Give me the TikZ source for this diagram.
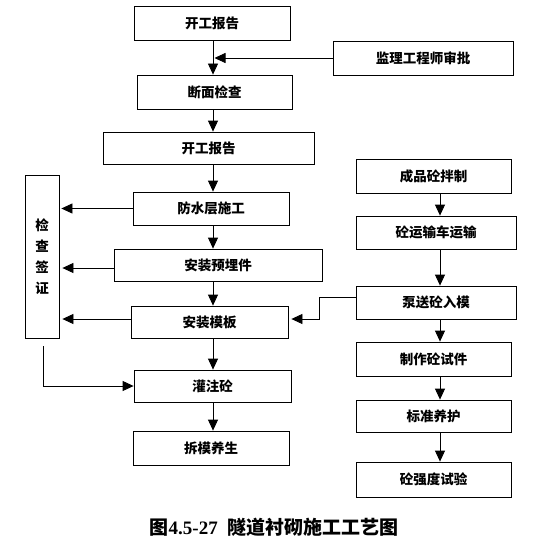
\documentclass[tikz,border=0pt]{standalone}
\usepackage{fontspec}
\setmainfont{Liberation Serif}
\newfontfamily\cjk{Noto Sans CJK SC}
\usetikzlibrary{arrows.meta,calc}
\begin{document}
\begin{tikzpicture}[x=1pt,y=-1pt,
  box/.style={draw, line width=0.8pt, inner sep=0pt, font=\cjk\bfseries\fontsize{13.5}{15}\selectfont},
  arr/.style={line width=0.8pt, -{Triangle[length=11pt,width=10pt]}},
  ln/.style={line width=0.8pt}]
\useasboundingbox (0,0) rectangle (549,551);
\fill[white] (0,0) rectangle (549,551);
\coordinate (colL) at (213,0);
\coordinate (colR) at (440,0);
% left column
\node[box, minimum width=156, minimum height=34] (top1) at (212,23) {开工报告};
\node[box, minimum width=180, minimum height=34] (jianli) at (423,58) {监理工程师审批};
\node[box, minimum width=155, minimum height=34] (duanmian) at (214.5,92) {断面检查};
\node[box, minimum width=211, minimum height=32] (top2) at (208.5,148) {开工报告};
\node[box, minimum width=34, minimum height=163, align=center,
      font=\cjk\bfseries\fontsize{13.5}{21}\selectfont] (jiancha) at (42,256.5) {检\\查\\签\\证};
\node[box, minimum width=156, minimum height=33] (fangshui) at (211,208.5) {防水层施工};
\node[box, minimum width=208, minimum height=32] (yumai) at (218,265) {安装预埋件};
\node[box, minimum width=157, minimum height=32] (muban) at (209.5,322) {安装模板};
\node[box, minimum width=157, minimum height=32] (guanzhu) at (212.5,386) {灌注砼};
\node[box, minimum width=156, minimum height=34] (chaimo) at (211,448) {拆模养生};
% right column
\node[box, minimum width=155, minimum height=34] (chengpin) at (433.5,176) {成品砼拌制};
\node[box, minimum width=160, minimum height=33] (yunshu) at (436,232.5) {砼运输车运输};
\node[box, minimum width=160, minimum height=33] (bengsong) at (436,302.5) {泵送砼入模};
\node[box, minimum width=155, minimum height=34] (zhizuo) at (433.5,359) {制作砼试件};
\node[box, minimum width=155, minimum height=32] (biaozhun) at (433.5,416) {标准养护};
\node[box, minimum width=155, minimum height=35] (qiangdu) at (433.5,479.5) {砼强度试验};
% caption
\node[font=\fontsize{19}{21}\selectfont\bfseries] (cap) at (274,527) {{\cjk 图}4.5-27\ \ {\cjk 隧道衬砌施工工艺图}};
% main column arrows
\draw[arr] (top1.south -| colL) -- (duanmian.north -| colL);
\draw[arr] (jianli.west) -- ($(jianli.west -| colL)+(1.5,0)$);
\draw[arr] (duanmian.south -| colL) -- (top2.north -| colL);
\draw[arr] (top2.south -| colL) -- (fangshui.north -| colL);
\draw[arr] (fangshui.south -| colL) -- (yumai.north -| colL);
\draw[arr] (yumai.south -| colL) -- (muban.north -| colL);
\draw[arr] (muban.south -| colL) -- (guanzhu.north -| colL);
\draw[arr] (guanzhu.south -| colL) -- (chaimo.north -| colL);
% to inspection
\draw[arr] (fangshui.west) -- ($(fangshui.west -| jiancha.east)+(2,0)$);
\draw[arr] ($(yumai.west)+(0,3)$) -- ($(yumai.west -| jiancha.east)+(3,3)$);
\draw[arr] ($(muban.west)+(0,-3)$) -- ($(muban.west -| jiancha.east)+(3,-3)$);
\coordinate (js) at (43,346);
\draw[arr] (js) |- (guanzhu.west);
% right column arrows
\draw[arr] (chengpin.south -| colR) -- (yunshu.north -| colR);
\draw[arr] (yunshu.south -| colR) -- (bengsong.north -| colR);
\draw[arr] (bengsong.south -| colR) -- (zhizuo.north -| colR);
\draw[arr] (zhizuo.south -| colR) -- (biaozhun.north -| colR);
\draw[arr] (biaozhun.south -| colR) -- (qiangdu.north -| colR);
\draw[arr] ($(bengsong.west)+(0,-5)$) -- ++(-36,0) |- ($(muban.east)+(3,-3)$);
\end{tikzpicture}
\end{document}
